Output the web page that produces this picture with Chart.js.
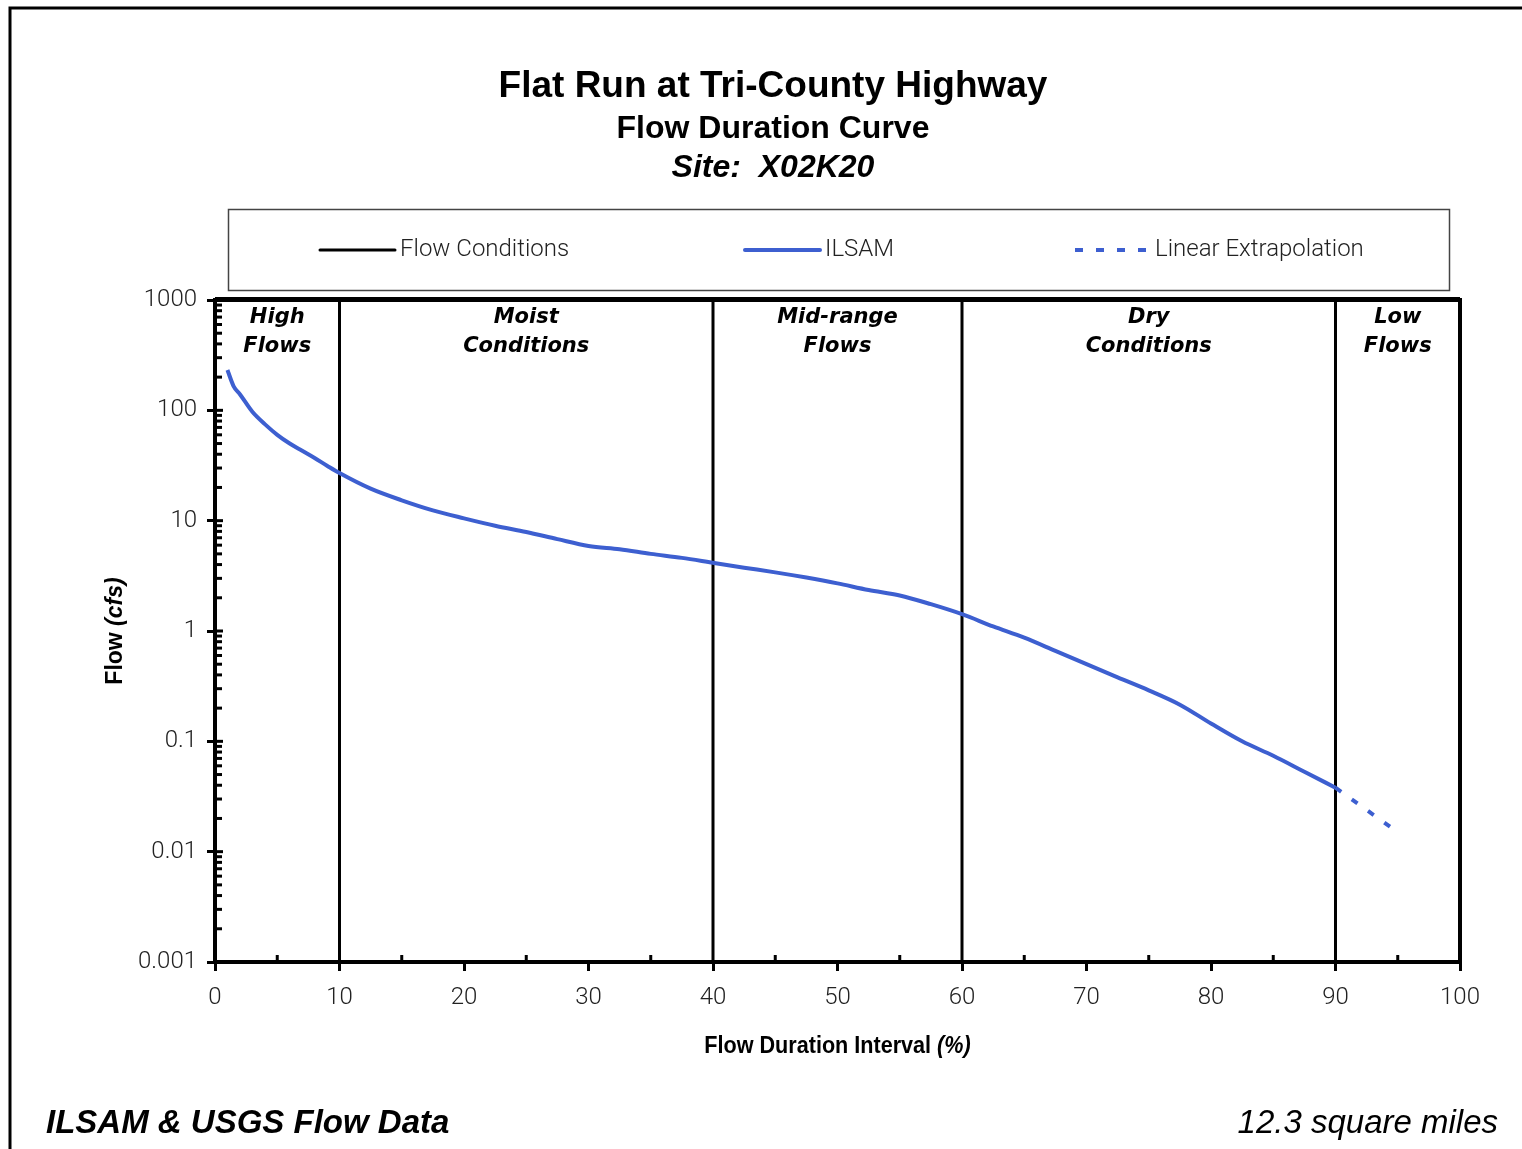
<!DOCTYPE html>
<html>
<head>
<meta charset="utf-8">
<title>Flat Run at Tri-County Highway - Flow Duration Curve</title>
<script src="https://cdn.jsdelivr.net/npm/chart.js@4.4.1/dist/chart.umd.min.js"></script>
<style>
    html, body { margin: 0; padding: 0; background: #fff; overflow: hidden; }
    #chart { display: block; }
</style>
</head>
<body>
<canvas id="chart" width="1522" height="1149"></canvas>
<script>
// flow duration interval (%) and ILSAM flow (cfs)
var durationPct = [1, 1.5, 2, 3, 4, 5, 6, 7, 8, 9, 10, 12.5, 15, 17.5, 20, 22.5, 25, 27.5, 30, 32.5, 35, 37.5, 40,
    42.5, 45, 47.5, 50, 52.5, 55, 57.5, 60, 62.5, 65, 67.5, 70, 72.5, 75, 77.5, 80, 82.5, 85, 87.5, 90];
var ilsamFlow = [232, 165, 140, 97, 75, 60, 50, 43, 37, 31.5, 27, 19.5, 15.3, 12.4, 10.5, 9.0, 7.9, 6.8, 5.9, 5.5, 5.0, 4.6, 4.15,
    3.75, 3.4, 3.05, 2.7, 2.35, 2.1, 1.75, 1.42, 1.1, 0.87, 0.66, 0.5, 0.38, 0.29, 0.215, 0.145, 0.1, 0.074, 0.053, 0.038];

// linear extrapolation into the low flow zone
var extrapPct = [90, 95];
var extrapFlow = [0.038, 0.015];

// flow condition zone boundaries
var conditionBounds = [10, 40, 60, 90];
var zoneNames = [['High', 'Flows'], ['Moist', 'Conditions'], ['Mid-range', 'Flows'], ['Dry', 'Conditions'], ['Low', 'Flows']];

var yTickLabels = ['0.001', '0.01', '0.1', '1', '10', '100', '1000'];
var xTickLabels = ['0', '10', '20', '30', '40', '50', '60', '70', '80', '90', '100'];

var yMin = Number(yTickLabels[0]);
var yMax = Number(yTickLabels[yTickLabels.length - 1]);
var xMin = Number(xTickLabels[0]);
var xMax = Number(xTickLabels[xTickLabels.length - 1]);

var BLUE = '#3d5fd0';
var SANS = '"Liberation Sans", Arial, sans-serif';
var TICK_FONT = {family: 'Roboto', size: 24, weight: '300'};

function toPoints(xs, ys) {
    return xs.map(function(x, i) { return {x: x, y: ys[i]}; });
}

var conditionData = [];
conditionBounds.forEach(function(b) {
    conditionData.push({x: b, y: yMin}, {x: b, y: yMax}, {x: b, y: null});
});

function isPow10(v) {
    var e = Math.log10(v);
    return Math.abs(e - Math.round(e)) < 1e-6;
}
function isWholeMantissa(v) {
    var m = v / Math.pow(10, Math.floor(Math.log10(v) + 1e-9));
    return Math.abs(m - Math.round(m)) < 1e-6;
}

var legendSpots = [320, 745, 1075];

// draws two text pieces (normal + italic) centred on 0,0 of current transform
function mixedText(ctx, a, b, size) {
    ctx.font = 'bold ' + size + 'px ' + SANS;
    var w1 = ctx.measureText(a).width;
    ctx.font = 'italic bold ' + size + 'px ' + SANS;
    var w2 = ctx.measureText(b).width;
    ctx.font = 'bold ' + size + 'px ' + SANS;
    ctx.fillText(a, -(w1 + w2) / 2, 0);
    ctx.font = 'italic bold ' + size + 'px ' + SANS;
    ctx.fillText(b, -(w1 + w2) / 2 + w1, 0);
}

var decor = {
    id: 'decor',
    beforeDraw: function(chart) {
        var ctx = chart.ctx;
        ctx.save();
        // outer frame
        ctx.strokeStyle = '#000';
        ctx.lineWidth = 3;
        ctx.beginPath();
        ctx.moveTo(10, 1149);
        ctx.lineTo(10, 8);
        ctx.lineTo(1522, 8);
        ctx.stroke();

        // titles
        ctx.fillStyle = '#000';
        ctx.textAlign = 'center';
        ctx.textBaseline = 'middle';
        ctx.font = 'bold 37px ' + SANS;
        ctx.fillText('Flat Run at Tri-County Highway', 773, 87);
        ctx.font = 'bold 32px ' + SANS;
        ctx.fillText('Flow Duration Curve', 773, 129);
        ctx.font = 'italic bold 32px ' + SANS;
        ctx.fillText('Site:  X02K20', 773, 168);

        // legend box
        ctx.strokeStyle = '#444';
        ctx.lineWidth = 1.5;
        ctx.strokeRect(228.5, 209.5, 1221, 81);
        chart.data.datasets.forEach(function(ds, i) {
            var x0 = legendSpots[i];
            ctx.strokeStyle = ds.borderColor;
            ctx.lineWidth = ds.borderWidth;
            ctx.lineCap = ds.borderDash ? 'butt' : 'round';
            ctx.setLineDash(ds.borderDash ? [8, 13] : []);
            ctx.beginPath();
            ctx.moveTo(x0, 250);
            ctx.lineTo(x0 + 75, 250);
            ctx.stroke();
            ctx.setLineDash([]);
            ctx.fillStyle = '#222';
            ctx.textAlign = 'left';
            ctx.font = '300 24px Roboto';
            ctx.fillText(ds.label, x0 + 80, 250);
        });

        // footers
        ctx.fillStyle = '#000';
        ctx.textAlign = 'left';
        ctx.font = 'italic bold 33px ' + SANS;
        ctx.fillText('ILSAM & USGS Flow Data', 46, 1124);
        ctx.textAlign = 'right';
        ctx.font = 'italic 33px ' + SANS;
        ctx.fillText('12.3 square miles', 1498, 1124);

        // axis titles
        var a = chart.chartArea;
        ctx.textAlign = 'left';
        ctx.save();
        ctx.translate(116, (a.top + a.bottom) / 2);
        ctx.rotate(-Math.PI / 2);
        mixedText(ctx, 'Flow ', '(cfs)', 23);
        ctx.restore();

        ctx.save();
        ctx.translate((a.left + a.right) / 2, 1046);
        ctx.scale(0.9, 1);
        mixedText(ctx, 'Flow Duration Interval ', '(%)', 24);
        ctx.restore();
        ctx.restore();
    },
    afterDatasetsDraw: function(chart) {
        var ctx = chart.ctx;
        var a = chart.chartArea;
        var xs = chart.scales.x, ys = chart.scales.y;
        ctx.save();
        ctx.strokeStyle = '#000';
        ctx.lineWidth = 4;
        ctx.strokeRect(a.left, a.top, a.right - a.left, a.bottom - a.top);
        ctx.beginPath();
        ctx.moveTo(a.left, a.top - 1);
        ctx.lineTo(a.right, a.top - 1);
        ctx.stroke();

        // inward ticks
        ctx.lineWidth = 3;
        ys.ticks.forEach(function(t) {
            if (!isWholeMantissa(t.value)) return;
            var py = ys.getPixelForValue(t.value);
            ctx.beginPath();
            ctx.moveTo(a.left, py);
            ctx.lineTo(a.left + (isPow10(t.value) ? 8 : 7), py);
            ctx.stroke();
        });
        xs.ticks.forEach(function(t) {
            if (t.value % 10 === 0) return;
            var px = xs.getPixelForValue(t.value);
            ctx.beginPath();
            ctx.moveTo(px, a.bottom);
            ctx.lineTo(px, a.bottom - 7);
            ctx.stroke();
        });

        // zone labels
        var bounds = [xMin].concat(conditionBounds, [xMax]);
        ctx.fillStyle = '#000';
        ctx.textAlign = 'center';
        ctx.textBaseline = 'middle';
        ctx.font = 'italic bold 21px "DejaVu Sans", sans-serif';
        zoneNames.forEach(function(z, i) {
            var cx = xs.getPixelForValue((bounds[i] + bounds[i + 1]) / 2);
            ctx.fillText(z[0], cx, a.top + 18);
            ctx.fillText(z[1], cx, a.top + 47);
        });
        ctx.restore();
    }
};

new Chart(document.getElementById('chart'), {
    type: 'line',
    data: {
        datasets: [{
            label: 'Flow Conditions',
            data: conditionData,
            borderColor: '#000',
            borderWidth: 3,
            pointRadius: 0,
            spanGaps: false,
            tension: 0,
            order: 3
        }, {
            label: 'ILSAM',
            data: toPoints(durationPct, ilsamFlow),
            borderColor: BLUE,
            borderWidth: 4,
            pointRadius: 0,
            cubicInterpolationMode: 'monotone',
            order: 1
        }, {
            label: 'Linear Extrapolation',
            data: toPoints(extrapPct, extrapFlow),
            borderColor: BLUE,
            borderWidth: 4,
            borderDash: [7, 13],
            pointRadius: 0,
            order: 2
        }]
    },
    options: {
        responsive: false,
        animation: false,
        devicePixelRatio: 1,
        events: [],
        layout: {padding: {left: 0, top: 300, right: 62, bottom: 127}},
        plugins: {legend: {display: false}, title: {display: false}, tooltip: {enabled: false}},
        scales: {
            x: {
                type: 'linear',
                min: xMin,
                max: xMax,
                afterFit: function(scale) { scale.height = 60; },
                border: {display: false},
                grid: {
                    drawOnChartArea: false,
                    tickLength: 9,
                    tickWidth: 3,
                    tickColor: function(c) { return c.tick && c.tick.value % 10 === 0 ? '#000' : 'rgba(0,0,0,0)'; }
                },
                ticks: {
                    stepSize: 5,
                    autoSkip: false,
                    maxRotation: 0,
                    padding: 13,
                    color: '#222',
                    font: TICK_FONT,
                    callback: function(v) { return v % 10 === 0 ? xTickLabels[v / 10] : ''; }
                }
            },
            y: {
                type: 'logarithmic',
                min: yMin,
                max: yMax,
                afterFit: function(scale) { scale.width = 215; },
                border: {display: false},
                grid: {
                    drawOnChartArea: false,
                    tickLength: 8,
                    tickWidth: 3,
                    tickColor: function(c) { return c.tick && isPow10(c.tick.value) ? '#000' : 'rgba(0,0,0,0)'; }
                },
                ticks: {
                    autoSkip: false,
                    padding: 10,
                    color: '#222',
                    font: TICK_FONT,
                    callback: function(v) {
                        var hit = yTickLabels.filter(function(l) {
                            return Math.abs(Math.log10(Number(l)) - Math.log10(v)) < 1e-6;
                        });
                        return hit.length ? hit[0] : '';
                    }
                }
            }
        }
    },
    plugins: [decor]
});
</script>
</body>
</html>
